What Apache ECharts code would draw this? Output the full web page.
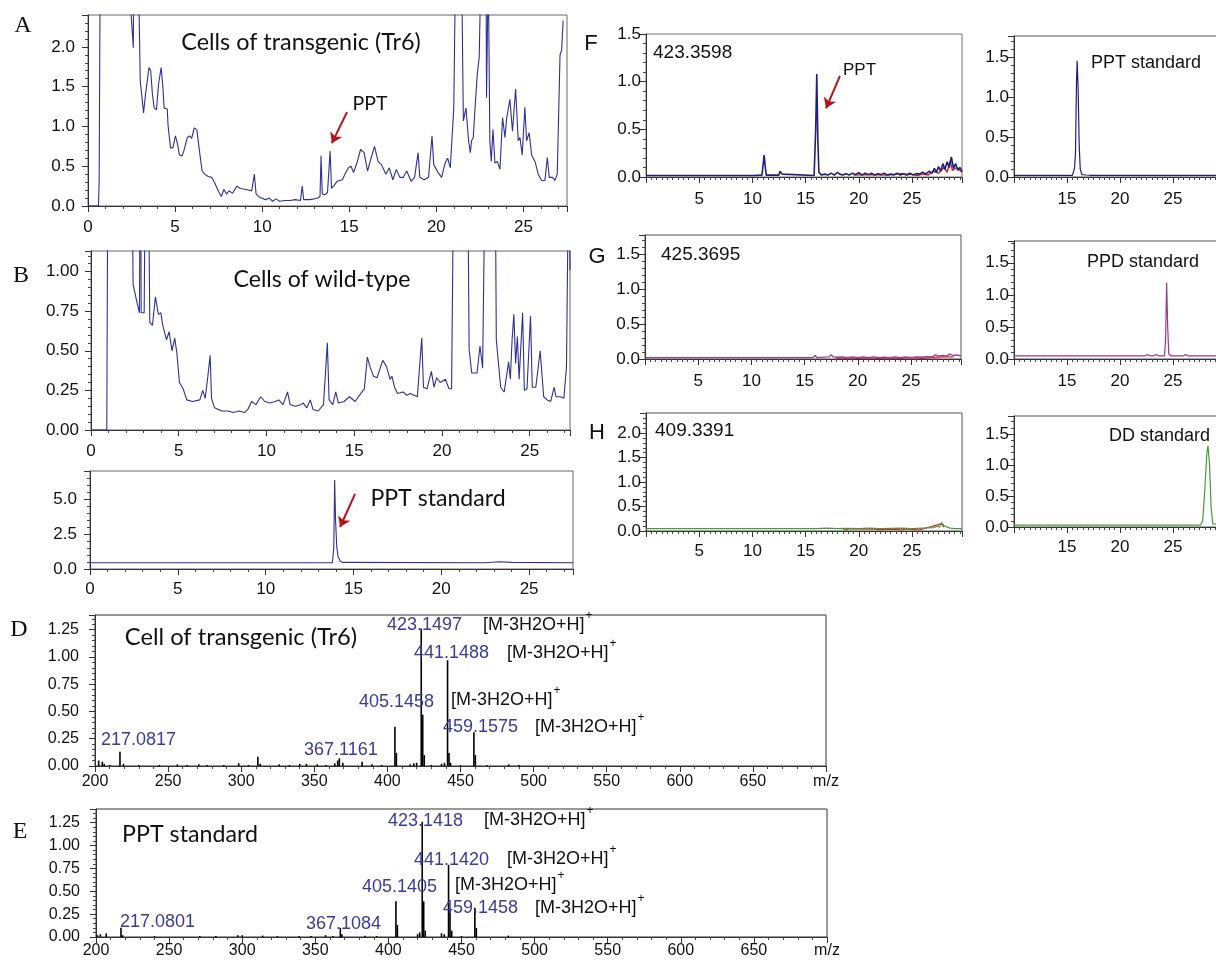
<!DOCTYPE html>
<html><head><meta charset="utf-8">
<script src="https://cdn.jsdelivr.net/npm/echarts@6/dist/echarts.min.js"></script>
<style>html,body{margin:0;padding:0;background:#fff}#c{width:1216px;height:964px}</style>
</head><body><div id="c"></div>
<script>
// ---------------- DATA (time in min / signal, m/z / intensity) ----------------
const A_points = [[0,0],[0.6,0],[0.64,0.3],[0.7,3],[2.3,3],[2.6,1.99],[2.63,3],[2.89,3],[3.0,1.57],[3.19,1.17],[3.3,1.40],[3.5,1.74],[3.6,1.70],[3.7,1.40],[3.8,1.23],[3.93,1.21],[4.05,1.53],[4.12,1.52],[4.2,1.74],[4.3,1.49],[4.37,1.23],[4.48,1.21],[4.55,1.22],[4.6,1.0],[4.74,0.73],[4.87,0.73],[5.02,0.88],[5.15,0.77],[5.25,0.64],[5.4,0.63],[5.5,0.69],[5.7,0.86],[5.85,0.88],[5.95,0.85],[6.1,0.98],[6.25,0.96],[6.4,0.69],[6.55,0.44],[6.7,0.40],[6.9,0.37],[7.1,0.36],[7.3,0.28],[7.5,0.18],[7.66,0.12],[7.8,0.21],[7.95,0.15],[8.1,0.19],[8.3,0.16],[8.55,0.25],[8.75,0.22],[9.0,0.21],[9.2,0.20],[9.4,0.19],[9.55,0.40],[9.65,0.15],[9.8,0.12],[9.95,0.10],[10.2,0.08],[10.4,0.10],[10.6,0.06],[10.8,0.09],[11.0,0.06],[11.3,0.07],[11.6,0.07],[11.9,0.08],[12.2,0.07],[12.3,0.25],[12.38,0.08],[12.7,0.08],[13.0,0.09],[13.2,0.10],[13.32,0.12],[13.38,0.63],[13.45,0.15],[13.6,0.14],[13.75,0.17],[13.9,0.69],[13.98,0.22],[14.1,0.25],[14.3,0.31],[14.6,0.33],[14.8,0.42],[14.95,0.48],[15.1,0.50],[15.25,0.42],[15.45,0.55],[15.65,0.71],[15.85,0.67],[16.05,0.44],[16.25,0.60],[16.45,0.75],[16.65,0.56],[16.85,0.52],[17.1,0.40],[17.3,0.48],[17.5,0.33],[17.7,0.46],[17.9,0.36],[18.1,0.36],[18.3,0.44],[18.55,0.31],[18.75,0.36],[18.95,0.67],[19.05,0.36],[19.3,0.33],[19.55,0.36],[19.75,0.88],[19.85,0.52],[20.1,0.42],[20.3,0.36],[20.5,0.54],[20.65,0.60],[20.8,0.48],[20.9,0.50],[21.0,1.23],[21.1,3],[21.45,3],[21.55,1.07],[21.7,1.23],[21.85,0.82],[21.95,0.67],[22.02,0.82],[22.12,0.86],[22.21,1.2],[22.35,1.66],[22.46,1.87],[22.56,3],[22.85,3],[22.88,1.36],[22.98,3],[23.03,3],[23.07,0.82],[23.15,0.56],[23.25,0.96],[23.36,0.54],[23.5,0.56],[23.65,0.46],[23.8,1.11],[23.94,0.86],[24.03,1.09],[24.22,1.34],[24.37,0.94],[24.55,1.47],[24.7,0.82],[24.8,0.86],[24.93,0.64],[25.08,1.24],[25.18,0.82],[25.33,0.92],[25.47,0.64],[25.66,0.56],[25.85,0.40],[26.04,0.32],[26.23,0.32],[26.37,0.61],[26.48,0.36],[26.67,0.36],[26.8,0.32],[26.94,0.40],[27.1,1.9],[27.19,1.95],[27.28,2.33]];

const B_points = [[0,0],[0.9,0],[0.97,2],[2.3,2],[2.4,0.92],[2.61,0.81],[2.76,0.74],[2.82,2],[2.86,0.74],[3.03,0.74],[3.12,2],[3.25,2],[3.35,0.68],[3.5,0.66],[3.67,0.84],[3.84,0.73],[3.98,0.74],[4.09,0.66],[4.3,0.57],[4.45,0.62],[4.62,0.50],[4.77,0.58],[4.89,0.49],[5.04,0.30],[5.25,0.26],[5.46,0.19],[5.78,0.18],[6.2,0.19],[6.37,0.25],[6.51,0.20],[6.66,0.34],[6.79,0.47],[6.87,0.20],[7.04,0.14],[7.46,0.12],[7.8,0.12],[8.1,0.11],[8.45,0.12],[8.75,0.11],[8.94,0.13],[9.15,0.18],[9.4,0.16],[9.67,0.21],[9.9,0.18],[10.2,0.17],[10.5,0.18],[10.7,0.19],[10.95,0.16],[11.2,0.24],[11.35,0.16],[11.65,0.15],[11.95,0.16],[12.1,0.17],[12.3,0.14],[12.5,0.19],[12.65,0.13],[12.95,0.12],[13.25,0.16],[13.47,0.55],[13.57,0.19],[13.78,0.16],[13.95,0.24],[14.1,0.17],[14.42,0.18],[14.73,0.21],[15.05,0.18],[15.37,0.23],[15.58,0.26],[15.75,0.46],[15.9,0.40],[16.1,0.34],[16.3,0.33],[16.63,0.44],[16.84,0.40],[17.05,0.32],[17.15,0.34],[17.3,0.27],[17.47,0.23],[17.78,0.24],[18.0,0.22],[18.2,0.23],[18.6,0.21],[18.85,0.58],[18.95,0.27],[19.15,0.26],[19.4,0.37],[19.55,0.27],[19.7,0.33],[19.9,0.30],[20.2,0.32],[20.4,0.26],[20.55,0.26],[20.7,2],[21.45,2],[21.55,0.51],[21.7,0.36],[21.8,0.37],[22.0,0.36],[22.17,0.53],[22.32,0.39],[22.5,2],[23.02,2],[23.1,0.57],[23.35,0.27],[23.55,0.24],[23.8,0.43],[23.9,0.32],[24.0,0.57],[24.1,0.73],[24.2,0.42],[24.3,0.59],[24.4,0.32],[24.6,0.74],[24.7,0.25],[24.85,0.26],[25.05,0.72],[25.15,0.27],[25.35,0.27],[25.6,0.50],[25.8,0.21],[26.0,0.19],[26.2,0.18],[26.4,0.27],[26.5,0.21],[26.75,0.21],[26.95,0.20],[27.1,0.40],[27.25,2],[27.3,1.01]];

const C_points = [[0,0.45],[13.8,0.45],[13.88,1.5],[13.93,6.35],[13.98,3.5],[14.05,1.6],[14.12,0.9],[14.25,0.55],[14.4,0.47],[22.5,0.45],[23.3,0.52],[24.0,0.47],[27.5,0.45]];

const D_sticks = [[202.5,0.05],[205,0.04],[206.3,0.02],[210,0.01],[217.08,0.13],[219.5,0.02],[230,0.01],[244,0.01],[256.3,0.015],[263,0.01],[271,0.015],[276.6,0.01],[288,0.01],[298.3,0.025],[305,0.01],[311.4,0.085],[313,0.02],[326,0.015],[333,0.01],[340,0.02],[344.6,0.02],[352,0.015],[358,0.01],[364,0.025],[366,0.05],[367.12,0.07],[369.5,0.03],[382.7,0.04],[389.5,0.015],[396,0.01],[405.15,0.36],[406.15,0.12],[415.6,0.015],[418,0.025],[420,0.03],[423.15,1.26],[424.15,0.47],[425.2,0.1],[430,0.01],[437,0.02],[439,0.03],[441.15,0.97],[442.15,0.12],[443.2,0.03],[450,0.01],[459.16,0.31],[460.16,0.1],[468,0.01],[483,0.015],[490,0.01]];

const E_sticks = [[201,0.02],[203,0.03],[207,0.04],[217.08,0.10],[218.2,0.02],[240,0.01],[271,0.01],[282,0.01],[297,0.02],[300,0.02],[314,0.015],[324,0.01],[339,0.01],[347,0.01],[357,0.02],[362,0.01],[367.11,0.10],[368.2,0.03],[384,0.015],[392,0.01],[405.14,0.39],[406.14,0.13],[420,0.03],[421.4,0.05],[423.14,1.26],[424.14,0.39],[425.2,0.07],[436.3,0.04],[438.2,0.03],[441.14,0.79],[442.14,0.30],[443.3,0.07],[450,0.01],[459.15,0.32],[460.15,0.10],[482,0.015]];

const F_points = [[0,0.015],[8.8,0.015],[8.9,0.03],[9.0,0.015],[9.9,0.015],[10.0,0.03],[10.1,0.015],[10.9,0.02],[11.0,0.12],[11.1,0.23],[11.2,0.12],[11.3,0.02],[12.5,0.02],[12.6,0.06],[12.7,0.08],[12.8,0.03],[12.9,0.015],[15.8,0.015],[15.95,0.5],[16.05,1.08],[16.15,0.4],[16.25,0.05],[16.5,0.02],[16.8,0.03],[17.1,0.02],[17.4,0.04],[17.7,0.02],[18.0,0.05],[18.2,0.03],[18.5,0.02],[18.8,0.035],[19.1,0.02],[19.4,0.04],[19.7,0.025],[20.0,0.045],[20.3,0.02],[20.6,0.04],[20.9,0.025],[21.2,0.04],[21.5,0.02],[21.8,0.035],[22.1,0.025],[22.4,0.04],[22.7,0.02],[23.0,0.03],[23.3,0.02],[23.6,0.04],[23.9,0.02],[24.2,0.035],[24.5,0.025],[24.8,0.04],[25.1,0.02],[25.4,0.035],[25.7,0.03],[26.0,0.05],[26.3,0.03],[26.6,0.06],[26.9,0.04],[27.1,0.09],[27.3,0.05],[27.5,0.11],[27.7,0.06],[27.9,0.14],[28.1,0.08],[28.3,0.16],[28.5,0.1],[28.7,0.21],[28.9,0.09],[29.1,0.14],[29.3,0.07],[29.5,0.1],[29.7,0.06]];
const F_red = [[19.5,0.02],[21.0,0.025],[22.5,0.02],[24.0,0.035],[24.5,0.02],[25.0,0.03],[25.5,0.015],[26.0,0.03],[26.5,0.02],[27.0,0.06],[27.5,0.04],[28.0,0.1],[28.3,0.05],[28.6,0.17],[28.8,0.07],[29.2,0.1],[29.7,0.05]];
const F_std = [[10,0.02],[15.5,0.02],[15.65,0.08],[15.72,0.12],[15.8,0.3],[15.9,1.2],[15.96,1.45],[16.05,1.1],[16.15,0.4],[16.25,0.1],[16.4,0.03],[16.8,0.025],[17.3,0.02],[30,0.02]];

const G_points = [[0,0.02],[15.8,0.02],[16.0,0.05],[16.15,0.02],[17.3,0.03],[17.5,0.06],[17.7,0.03],[18.0,0.025],[18.5,0.03],[19.0,0.02],[19.5,0.03],[20.0,0.02],[20.5,0.03],[21.0,0.02],[21.5,0.03],[22.0,0.02],[22.5,0.025],[23.0,0.02],[23.5,0.03],[24.0,0.02],[24.5,0.03],[25.0,0.02],[25.5,0.03],[26.0,0.025],[26.5,0.035],[27.0,0.03],[27.3,0.06],[27.6,0.04],[28.0,0.05],[28.3,0.04],[28.6,0.07],[29.0,0.05],[29.3,0.06],[29.7,0.04]];
const G_red = [[18,0.01],[19,0.015],[20,0.01],[21,0.015],[22,0.01],[23,0.015],[24,0.01],[25,0.02],[26,0.01],[27,0.02],[28,0.03],[29,0.03]];
const G_std = [[10,0.05],[22.4,0.05],[22.6,0.07],[22.8,0.05],[23.2,0.05],[23.4,0.07],[23.6,0.05],[24.2,0.05],[24.3,0.3],[24.4,1.19],[24.5,0.5],[24.6,0.08],[24.8,0.05],[26.0,0.05],[26.2,0.07],[26.4,0.05],[30,0.05]];

const H_points = [[0,0.05],[16,0.05],[17,0.06],[18,0.05],[19,0.055],[20,0.05],[21,0.06],[22,0.05],[23,0.055],[24,0.06],[25,0.05],[26,0.06],[27,0.07],[27.4,0.1],[27.6,0.08],[27.8,0.17],[28.0,0.11],[28.2,0.09],[28.6,0.06],[29,0.05],[29.7,0.05]];
const H_red = [[18.5,0.045],[18.8,0.02],[19.1,0.045],[21.5,0.04],[22.0,0.03],[23.5,0.04],[24.0,0.02],[24.5,0.045],[25.3,0.03],[25.6,0.02],[26.0,0.04],[27.8,0.15],[28.0,0.08]];
const H_std = [[10,0.03],[27.6,0.03],[27.8,0.1],[28.0,0.6],[28.2,1.2],[28.3,1.31],[28.45,1.0],[28.6,0.3],[28.75,0.05],[28.9,0.03],[30,0.03]];

const msLabelsD = [['423.1497',387,625],['441.1488',414,653],['405.1458',359,702],['459.1575',443,727],['217.0817',101,740],['367.1161',304,750]];
const msIonsD = [[483,625],[507,653],[451,700],[535,727]];
const msLabelsE = [['423.1418',388,821],['441.1420',414,860],['405.1405',362,887],['459.1458',443,908],['217.0801',120,922],['367.1084',306,924]];
const msIonsE = [[484,820],[507,859],[455,885],[535,908]];
const ionText = '[M-3H2O+H]';

// ---------------- helpers ----------------
const SANS = '"Liberation Sans", Arial, sans-serif';
const cv = document.createElement('canvas').getContext('2d');
function measure(t, font){ cv.font = font; return cv.measureText(t).width; }
function fitFont(t, fam, w){ const s = 100*w/measure(t, '100px ' + fam); return s.toFixed(1) + 'px ' + fam; }
const isMul = (v, s) => Math.abs(v/s - Math.round(v/s)) < 1e-6;

function grid(left, top, width, height, col){
  return {left, top, width, height, show:true, borderColor: col || '#666', borderWidth:1, backgroundColor:'transparent', containLabel:false, outerBoundsMode:'none'};
}
function xAx(gi, min, max, interval, minorSplit, fmt, margin, fs){
  return {type:'value', gridIndex:gi, min, max, interval,
    axisLine:{show:true, onZero:false, lineStyle:{color:'#333', width:1}},
    axisTick:{show:true, length:6, lineStyle:{color:'#333'}},
    minorTick:{show:true, splitNumber:minorSplit, length:3, lineStyle:{color:'#444'}},
    splitLine:{show:false}, minorSplitLine:{show:false},
    axisLabel:{formatter:fmt, margin, fontSize:fs || 17, fontFamily:SANS, color:'#111', showMinLabel:true, showMaxLabel:true, hideOverlap:false}};
}
function yAx(gi, min, max, interval, minorSplit, dec, margin, fs){
  return {type:'value', gridIndex:gi, min, max, interval,
    axisLine:{show:true, onZero:false, lineStyle:{color:'#333', width:1}},
    axisTick:{show:true, length:6, lineStyle:{color:'#333'}},
    minorTick:{show:true, splitNumber:minorSplit, length:3, lineStyle:{color:'#444'}},
    splitLine:{show:false}, minorSplitLine:{show:false},
    axisLabel:{formatter: v => isMul(v, interval) ? v.toFixed(dec) : '', margin, fontSize:fs || 17, fontFamily:SANS, color:'#111', hideOverlap:false}};
}
const fmt5 = v => isMul(v,5) ? String(v) : '';
const fmt5no0 = v => (isMul(v,5) && v > 0) ? String(v) : '';
const fmtRight = v => (isMul(v,5) && v > 10 && v < 30) ? String(v) : '';
const fmtMz = v => v === 700 ? 'm/z' : (isMul(v,50) ? String(v) : '');

function line(gi, data, color, width, extra){
  return Object.assign({type:'line', xAxisIndex:gi, yAxisIndex:gi, data, showSymbol:false, symbol:'none',
    lineStyle:{color, width: width || 1}, itemStyle:{color}, clip:true, animation:false, silent:true}, extra || {});
}
function arrow(x1,y1,x2,y2){
  return {markLine:{silent:true, animation:false, symbol:['none','arrow'], symbolSize:10,
    lineStyle:{color:'#b3141c', width:2, type:'solid'}, label:{show:false},
    data:[[{coord:[x1,y1]},{coord:[x2,y2]}]]}};
}
function sticks(gi, data){
  return {type:'bar', xAxisIndex:gi, yAxisIndex:gi, data, barWidth:1.6, itemStyle:{color:'#000'}, animation:false, silent:true};
}

const NAVY = '#2e3192', FNAVY = '#1f1f7a', MAG = '#a0348f', GRN = '#4a9a3c', RED = '#d42020';

const grids = [
  grid(88, 15, 479, 191),      // A
  grid(91, 251, 479, 179),     // B
  grid(90, 471, 483, 98),      // C
  grid(95, 615, 731, 151, '#333'),  // D
  grid(96, 809, 731, 128, '#333'),  // E
  grid(646, 34, 316, 143, '#777'),  // F left
  grid(1014, 36, 212, 141, '#555'), // F right
  grid(645, 235, 316, 124, '#555'), // G left
  grid(1014, 241, 212, 118, '#555'),// G right
  grid(646, 413, 316, 118, '#555'), // H left
  grid(1014, 416, 212, 111, '#555') // H right
];
const xAxes = [
  xAx(0, 0, 27.5, 5, 5, fmt5, 13),
  xAx(1, 0, 27.3, 5, 5, fmt5, 13),
  xAx(2, 0, 27.5, 5, 5, fmt5, 12),
  xAx(3, 200, 700, 50, 5, fmtMz, 8, 16),
  xAx(4, 200, 700, 50, 5, fmtMz, 6, 16),
  xAx(5, 0, 29.7, 5, 10, fmt5no0, 14),
  xAx(6, 10, 30, 5, 10, fmtRight, 14),
  xAx(7, 0, 29.7, 5, 10, fmt5no0, 14),
  xAx(8, 10, 30, 5, 10, fmtRight, 14),
  xAx(9, 0, 29.7, 5, 10, fmt5no0, 12),
  xAx(10, 10, 30, 5, 10, fmtRight, 12)
];
const yAxes = [
  yAx(0, 0, 2.4, 0.5, 5, 1, 13),
  yAx(1, 0, 1.13, 0.25, 5, 2, 12),
  yAx(2, 0, 7.0, 2.5, 5, 1, 13),
  yAx(3, 0, 1.385, 0.25, 5, 2, 16, 16),
  yAx(4, 0, 1.40, 0.25, 5, 2, 16, 16),
  yAx(5, 0, 1.5, 0.5, 5, 1, 5),
  yAx(6, 0, 1.76, 0.5, 5, 1, 5),
  yAx(7, 0, 1.77, 0.5, 5, 1, 5),
  yAx(8, 0, 1.84, 0.5, 5, 1, 5),
  yAx(9, 0, 2.41, 0.5, 5, 1, 5),
  yAx(10, 0, 1.79, 0.5, 5, 1, 5)
];
const series = [
  line(0, A_points, NAVY, 1.1, arrow(14.87, 1.18, 14.0, 0.79)),
  line(1, B_points, NAVY, 1.1),
  line(2, C_points, NAVY, 1.1, arrow(15.09, 5.36, 14.24, 3.0)),
  sticks(3, D_sticks),
  sticks(4, E_sticks),
  line(5, F_red, RED, 1.4),
  line(5, F_points, FNAVY, 1.6, arrow(18.23, 1.06, 16.92, 0.72)),
  line(6, F_std, FNAVY, 1.2),
  line(7, G_red, RED, 1.2),
  line(7, G_points, MAG, 1.3),
  line(8, G_std, MAG, 1.2),
  line(9, H_red, RED, 1.2),
  line(9, H_points, GRN, 1.3),
  line(10, H_std, GRN, 1.2)
];

// ---------------- texts ----------------
function txt(x, y, text, font, fill, align){
  return {type:'text', x, y, z:100, silent:true,
    style:{text, font, fill: fill || '#111', align: align || 'left', verticalAlign:'middle', textAlign: align || 'left', textVerticalAlign:'middle'}};
}
const g = [];
[['Cells of transgenic (Tr6)',301,42,240],['Cells of wild-type',322,280,177],['PPT standard',438,499,135],
 ['PPT',370,104,35],['Cell of transgenic (Tr6)',241,637,232],['PPT standard',190,835,136]]
 .forEach(([t,x,y,w]) => g.push(txt(x, y, t, fitFont(t, 'Lato', w), '#111', 'center')));

const SERIF = '24px "Liberation Serif", "Times New Roman", serif';
g.push(txt(23, 26, 'A', SERIF, '#111', 'center'));
g.push(txt(21, 276, 'B', SERIF, '#111', 'center'));
g.push(txt(19, 630, 'D', SERIF, '#111', 'center'));
g.push(txt(20, 832, 'E', SERIF, '#111', 'center'));
const LET = '22px ' + SANS;
g.push(txt(591, 44, 'F', LET, '#111', 'center'));
g.push(txt(597, 257, 'G', LET, '#111', 'center'));
g.push(txt(597, 433, 'H', LET, '#111', 'center'));

g.push(txt(653, 53, '423.3598', '19px ' + SANS));
g.push(txt(843, 70, 'PPT', '17px ' + SANS));
g.push(txt(1091, 63, 'PPT standard', '18px ' + SANS));
g.push(txt(661, 255, '425.3695', '19px ' + SANS));
g.push(txt(1087, 262, 'PPD standard', '18px ' + SANS));
g.push(txt(655, 431, '409.3391', '19px ' + SANS));
g.push(txt(1109, 436, 'DD standard', '18px ' + SANS));

const MSF = '18px ' + SANS;
const ionW = measure(ionText, MSF);
[...msLabelsD, ...msLabelsE].forEach(([t,x,y]) => g.push(txt(x, y, t, MSF, '#3b3b98')));
[...msIonsD, ...msIonsE].forEach(([x,y]) => {
  g.push(txt(x, y, ionText, MSF, '#111'));
  g.push(txt(x + ionW + 1, y - 9, '+', '12px ' + SANS, '#111'));
});

const chart = echarts.init(document.getElementById('c'), null, {renderer:'canvas'});
chart.setOption({animation:false, backgroundColor:'#fff', grid:grids, xAxis:xAxes, yAxis:yAxes, series, graphic:g});
</script></body></html>
